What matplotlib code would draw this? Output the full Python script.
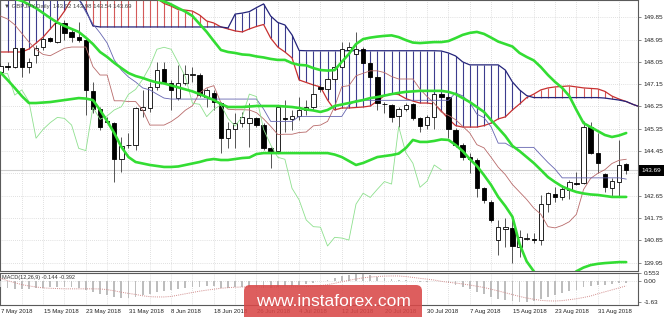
import numpy as np
import matplotlib
matplotlib.use('Agg')
import matplotlib.pyplot as plt
from matplotlib.patches import FancyBboxPatch, Rectangle
from matplotlib.transforms import IdentityTransform

# ---------------- data ----------------
opens = [147.66,147.87,147.86,148.60,147.86,148.33,148.66,149.00,148.87,149.63,149.24,149.04,148.93,146.89,146.14,145.66,145.60,144.12,144.68,144.70,
         146.11,146.18,147.02,147.75,147.19,146.58,147.19,147.54,147.52,146.65,146.81,146.40,144.97,145.33,145.57,145.57,145.77,145.50,144.56,144.47,
         145.77,145.73,145.87,146.11,146.24,147.05,146.94,147.35,147.86,148.53,148.37,148.56,148.02,147.45,146.36,146.31,145.87,146.14,146.35,145.77,
         145.50,145.84,146.75,146.62,145.30,144.70,144.20,144.09,142.95,142.41,140.86,141.32,141.36,140.59,140.92,140.89,140.86,142.31,142.72,142.58,
         142.88,143.18,143.15,145.41,144.36,143.51,142.95,143.22,143.92]
highs = [147.99,148.06,148.66,148.66,148.19,148.73,149.07,149.07,149.67,149.74,149.40,149.67,149.00,147.25,146.24,145.84,145.64,145.03,145.17,146.24,
         146.92,147.25,148.06,148.06,147.32,147.93,147.93,147.86,147.59,146.98,146.92,146.45,145.64,145.97,146.04,146.38,145.84,145.57,144.63,146.24,
         146.51,146.11,146.65,146.51,147.19,147.12,147.45,148.13,148.87,148.87,149.27,148.66,148.06,147.52,146.45,146.35,146.24,146.38,146.38,145.81,
         145.91,146.81,146.81,146.71,145.37,144.76,144.36,144.16,143.01,142.48,141.67,141.74,141.74,141.27,141.13,141.13,142.68,142.81,143.01,143.08,
         143.28,143.62,145.68,145.64,145.17,143.55,143.35,144.90,143.98]
lows = [147.56,147.72,147.79,147.45,147.59,147.99,148.53,148.87,148.80,148.93,148.87,148.87,145.91,145.97,145.30,145.57,143.22,143.62,144.56,144.49,
        145.84,146.04,146.92,147.19,146.11,146.51,147.12,147.25,146.65,146.24,146.11,144.36,144.56,144.56,145.44,144.63,145.44,144.49,143.75,144.36,
        145.23,145.30,145.70,145.91,146.11,146.85,146.85,147.25,147.79,148.40,148.33,147.99,147.39,146.11,145.97,145.64,145.44,146.08,145.70,145.23,
        145.33,145.33,146.58,144.97,144.63,144.09,143.55,142.61,142.34,141.60,140.26,140.59,139.92,140.19,140.86,140.73,140.66,142.00,142.41,142.48,
        142.50,143.08,143.12,144.33,143.55,142.81,142.61,142.61,143.54]
closes = [147.88,147.86,148.60,147.86,148.06,148.60,148.96,148.91,149.63,149.20,149.07,148.93,146.92,146.14,145.44,145.63,144.12,144.66,144.71,146.18,
          146.22,147.02,147.72,147.25,146.92,147.19,147.56,147.58,146.71,146.92,146.45,144.97,145.33,145.60,145.81,145.77,145.50,144.56,144.47,146.22,
          145.73,145.87,146.11,146.24,146.74,146.94,147.35,147.86,148.56,148.64,148.56,148.02,147.45,146.38,146.34,145.84,146.14,146.31,145.77,145.46,
          145.84,146.75,146.65,145.33,144.70,144.20,144.12,142.95,142.48,141.67,141.40,141.38,140.62,140.97,140.94,140.86,142.31,142.75,142.58,142.91,
          143.22,143.12,145.44,144.39,143.96,142.99,143.24,143.89,143.69]

tenkan = [149.9,149.78,149.55,149.2,148.85,148.55,148.35,148.3,148.45,148.6,148.65,148.65,148.65,147.86,147.52,147.52,146.48,146.48,146.45,146.45,
          146.11,145.5,145.5,145.5,145.64,145.84,146.1,146.28,146.8,147.0,147.09,146.4,146.14,146.12,146.12,146.11,146.0,145.75,145.45,145.12,
          145.13,145.13,145.2,145.22,145.47,145.5,145.65,146.25,147.05,147.09,147.49,147.59,147.69,147.69,147.62,147.46,147.36,147.36,147.36,146.95,
          146.65,146.38,146.02,145.89,145.72,145.45,145.18,144.71,144.58,144.2,143.8,143.5,143.1,142.8,142.5,142.15,141.9,141.4,141.35,141.45,
          141.6,141.9,142.9,143.35,143.55,143.7,143.95,144.08,144.12]
kijun = [151.0]*11 + [150.6,150.06,149.58,149.22,148.81,148.13,147.72,147.44,147.24,147.0,146.92,146.75,146.59] + [146.55]*13 + [146.15] + \
        [145.65]*4 + [145.85]*7 + [146.3] + [146.5]*14 + [146.8,146.68,146.41,145.94,145.8,145.43,144.77,144.77] + [144.6]*4 + \
        [144.29,143.99,143.72] + [143.37]*9 + [143.32]
senkou_a = [148.45,148.45,148.45,148.45,148.57,148.81,149.05,149.38,149.70,150.10,150.6,150.9,151.0,151.1,151.1,151.1,151.1,151.1,151.0,151.0,
            150.9,150.8,150.6,150.41,150.3,150.16,150.14,150.1,149.94,149.70,149.62,149.46,149.38,149.30,149.26,149.38,149.48,149.56,149.01,148.65,
            148.45,148.21,147.32,147.22,147.12,147.04,146.51,146.11,146.19,146.19,146.21,146.23,146.27,146.47,146.69,146.77,146.73,146.57,146.47,146.39,
            146.39,146.35,146.07,145.75,145.48,145.42,145.42,145.42,145.48,145.58,145.75,145.83,146.11,146.35,146.61,146.75,146.92,147.0,147.04,147.06,
            147.08,147.04,147.0,146.98,146.96,146.86,146.67,146.55,146.45,146.33,146.23]
senkou_b = [151.2]*11 + [150.6,150.14,149.5] + [149.46]*18 + [149.42,149.98,150.02,150.08,150.24,150.39,149.9,149.64,149.54,149.14,148.51] + \
           [148.50]*19 + [148.49,148.41,148.29,148.05] + [147.93]*5 + [147.72,147.24,146.92,146.69] + [146.61]*10 + \
           [146.59,146.55,146.51,146.45,146.33,146.23]
bb_upper = [150.9]*22 + [150.6,150.49,150.37,150.22,150.08,149.9,149.58,149.26,148.89,148.53,148.45,148.41,148.35,148.33,148.27,148.23,148.17,148.13,
            148.13,148.0,147.93,147.91,147.8,147.72,147.7,147.72,148.05,148.37,148.77,148.97,149.03,149.07,149.1,149.12,149.05,148.93,148.83,148.81,
            148.83,148.85,148.85,148.89,149.01,149.14,149.22,149.26,149.18,149.03,148.87,148.77,148.67,148.41,148.25,148.11,147.84,147.52,147.24,147.0,
            146.67,146.11,145.58,145.42,145.26,145.1,145.02,145.08,145.18]
bb_mid = [150.75,150.65,150.6,150.51,150.37,150.22,150.02,149.82,149.64,149.5,149.38,149.26,149.03,148.77,148.45,148.25,148.01,147.8,147.6,147.48,
          147.4,147.3,147.22,147.18,147.1,147.02,146.94,146.86,146.75,146.63,146.51,146.35,146.23,146.23,146.23,146.25,146.27,146.27,146.27,146.27,
          146.25,146.23,146.19,146.13,146.09,146.03,146.11,146.27,146.33,146.39,146.45,146.51,146.59,146.63,146.69,146.75,146.8,146.84,146.86,146.88,
          146.88,146.88,146.88,146.84,146.75,146.59,146.43,146.23,146.03,145.7,145.38,145.06,144.66,144.45,144.21,143.97,143.69,143.4,143.2,143.02,
          142.9,142.8,142.74,142.7,142.68,142.64,142.6,142.6,142.6]
bb_lower = [147.62,147.32,147.0,146.67,146.39,146.39,146.41,146.43,146.47,146.51,146.55,146.59,146.57,146.51,146.11,145.66,145.18,144.62,144.21,144.01,
            143.95,143.89,143.85,143.81,143.81,143.83,143.89,143.95,144.01,144.09,144.13,144.09,144.09,144.13,144.17,144.19,144.33,144.37,144.37,144.37,
            144.37,144.37,144.37,144.37,144.37,144.37,144.37,144.31,144.21,144.05,143.89,143.97,144.09,144.21,144.25,144.29,144.35,144.57,144.9,144.82,
            144.82,144.86,144.92,144.9,144.7,144.45,144.13,143.85,143.48,143.08,142.6,142.23,141.8,140.7,140.0,139.6,139.3,139.1,139.0,139.1,
            139.35,139.6,139.75,139.85,139.9,139.93,139.95,139.97,139.97]
macd_hist = [-0.45,-0.55,-0.6,-0.62,-0.6, -0.58,-0.55,-0.5,-0.45,-0.45,-0.48,-0.52, -0.7,-0.85,-1.0,-1.12,-1.28,-1.35,
             -1.35,-1.25,-1.12,-0.98,-0.85,-0.75,-0.7, -0.6,-0.52,-0.46,-0.45,-0.42,-0.42, -0.52,-0.52,-0.5,-0.47,-0.46,-0.47,-0.52,-0.58,
             -0.48,-0.43,-0.38,-0.32,-0.26,-0.16, -0.06,0.05,0.18,0.33,0.44,0.5,0.5,0.44, 0.32,0.22,0.12,0.06,0.02,-0.04,
             -0.1,-0.1,-0.04,-0.03,-0.18,-0.34, -0.5,-0.65,-0.85,-1.05,-1.25,-1.4,-1.5,-1.58, -1.63,-1.6,-1.55,-1.4,-1.26,-1.12,
             -0.97,-0.82,-0.7,-0.5,-0.42,-0.36,-0.32,-0.26,-0.18,-0.144]
macd_signal = [0.18,0.0,-0.15,-0.3,-0.4,-0.48,-0.55,-0.58,-0.6,-0.62,-0.62,-0.62,-0.62,-0.62,-0.63,-0.68,-0.77,-0.88,-0.97,-1.05,
               -1.15,-1.22,-1.24,-1.24,-1.2,-1.1,-1.0,-0.9,-0.8,-0.72,-0.65,-0.58,-0.53,-0.5,-0.48,-0.48,-0.48,-0.48,-0.48,-0.48,
               -0.48,-0.47,-0.46,-0.45,-0.43,-0.38,-0.3,-0.2,-0.08,0.03,0.13,0.22,0.28,0.32,0.35,0.36,0.36,0.32,0.25,0.18,
               0.12,0.05,-0.05,-0.12,-0.18,-0.25,-0.33,-0.42,-0.52,-0.65,-0.78,-0.92,-1.06,-1.2,-1.32,-1.42,-1.5,-1.54,-1.55,-1.52,
               -1.45,-1.38,-1.28,-1.17,-1.0,-0.85,-0.7,-0.55,-0.392]
price_ticks = [149.85,148.95,148.05,147.15,146.25,145.35,144.45,143.55,142.65,141.75,140.85,139.95]
date_labels = ['7 May 2018','15 May 2018','23 May 2018','31 May 2018','8 Jun 2018','18 Jun 2018','26 Jun 2018',
               '4 Jul 2018','12 Jul 2018','20 Jul 2018','30 Jul 2018','7 Aug 2018','15 Aug 2018','23 Aug 2018','31 Aug 2018']
last_price = 143.69
title = '\u25bc GBPJPY,Daily  143.92 143.98 143.54 143.69'
macd_title = 'MACD(12,26,9) -0.144 -0.392'

# ---------------- drawing ----------------
FONT = ['Liberation Sans', 'DejaVu Sans']
plt.rcParams['font.family'] = FONT

W, H = 665, 317
fig = plt.figure(figsize=(W/100, H/100), dpi=100)
fig.patch.set_facecolor('white')
ax = fig.add_axes([0, 1-271/H, 638/W, 271/H])
axm = fig.add_axes([0, 1-305/H, 638/W, 32.5/H])

n = len(closes)
x = np.arange(n)
xc = np.arange(len(senkou_a))
XLIM = (-0.07, 89.66)
grid_kw = dict(color='#c4c4c4', lw=0.5, linestyle=(0, (1, 2)))

for a in (ax, axm):
    a.set_xlim(*XLIM)
    a.set_facecolor('white')
    for s in a.spines.values():
        s.set_color('#5a5a5a'); s.set_linewidth(0.8)
    a.set_xticks(np.arange(3, 90, 3))
    a.tick_params(axis='x', length=0, labelbottom=False)
    a.xaxis.grid(True, **grid_kw)
    a.set_axisbelow(True)

ax.set_ylim(139.611, 150.548)
ax.yaxis.tick_right()
ax.set_yticks(price_ticks)
# the 143.55 label sits under the current-price box, so it is left blank
ax.set_yticklabels(['' if abs(v - 143.55) < 1e-6 else '%.2f' % v for v in price_ticks])
ax.tick_params(axis='y', length=2.5, width=0.5, pad=1.5, labelsize=4.6, colors='#5a5a5a', labelcolor='#222222')
ax.yaxis.grid(True, **grid_kw)

# bid line
ax.axhline(last_price, color='#cfcfcf', lw=0.8, zorder=1)

# Ichimoku cloud hatch
for i in xc:
    a_, b_ = senkou_a[i], senkou_b[i]
    col = '#d45a5a' if a_ > b_ else '#3c3c8e'
    ax.vlines(i, min(a_, b_), max(a_, b_), color=col, lw=0.8, zorder=2)
ax.plot(xc, senkou_a, color='#c83030', lw=0.9, zorder=2.5)
ax.plot(xc, senkou_b, color='#24247a', lw=0.9, zorder=2.5)

# candles
o = np.array(opens); c = np.array(closes); h = np.array(highs); l = np.array(lows)
ax.vlines(x, l, h, color='#3a3a3a', lw=0.6, zorder=3)
up = c >= o
body_lo = np.minimum(o, c); body_h = np.abs(c - o)
ax.bar(x[up], body_h[up], bottom=body_lo[up], width=0.62, color='white', edgecolor='black', lw=0.6, zorder=4)
ax.bar(x[~up], body_h[~up], bottom=body_lo[~up], width=0.62, color='black', edgecolor='black', lw=0.6, zorder=4)

# Ichimoku lines
ax.plot(x, tenkan, color='#b86a6a', lw=0.6, zorder=5)
ax.plot(x, kijun, color='#6464b0', lw=0.6, zorder=5)
ax.plot(x[:-26], closes[26:], color='#8ee08e', lw=0.6, zorder=5)  # chikou span

# Bollinger bands
for band in (bb_upper, bb_mid, bb_lower):
    ax.plot(x, band, color='#33dd33', lw=1.9, zorder=6, solid_capstyle='round')

ax.text(0.006, 0.987, title, transform=ax.transAxes, va='top', ha='left',
        fontsize=4.3, color='#444444', family=FONT, zorder=10)

# MACD panel
axm.set_ylim(-1.855, 0.626)
axm.yaxis.tick_right()
axm.set_yticks([0.553, 0.0, -1.63])
axm.set_yticklabels(['0.553', '0.00', '-1.63'])
axm.tick_params(axis='y', length=2.5, width=0.5, pad=1.5, labelsize=4.6, colors='#5a5a5a', labelcolor='#222222')
axm.axhline(0, **grid_kw)
axm.bar(x, macd_hist, width=0.25, color='#bdbdbd', zorder=3)
axm.plot(x, macd_signal, color='#d08a8a', lw=0.7, linestyle=(0, (1, 1.2)), zorder=4)
axm.text(0.003, 0.86, macd_title, transform=axm.transAxes, va='center', ha='left',
         fontsize=4.0, color='#333333', zorder=10)

# date labels
trans = axm.get_xaxis_transform()
for k, lab in enumerate(date_labels):
    axm.text(k*6 + 0.05, -0.2, lab, transform=trans, ha='left', va='center',
             fontsize=4.3, color='#222222', clip_on=False)

# current price box
fig.add_artist(Rectangle((639, H-176), 25, 11, transform=IdentityTransform(),
                         facecolor='black', edgecolor='none', zorder=20))
fig.text(651.5/W, 1-170.5/H, '%.2f' % last_price, ha='center', va='center',
         fontsize=4.6, color='white', zorder=21)

# watermark
fig.add_artist(FancyBboxPatch((244, -12), 178, H-285+12, boxstyle='round,pad=0,rounding_size=6',
                              transform=IdentityTransform(), facecolor='#d94848', edgecolor='none',
                              alpha=0.88, zorder=30))
fig.text(333/W, 1-301/H, 'www.instaforex.com', ha='center', va='center', fontsize=12.5,
         color='white', family=FONT, zorder=31)

fig.savefig('out.png', dpi=100, facecolor='white')
